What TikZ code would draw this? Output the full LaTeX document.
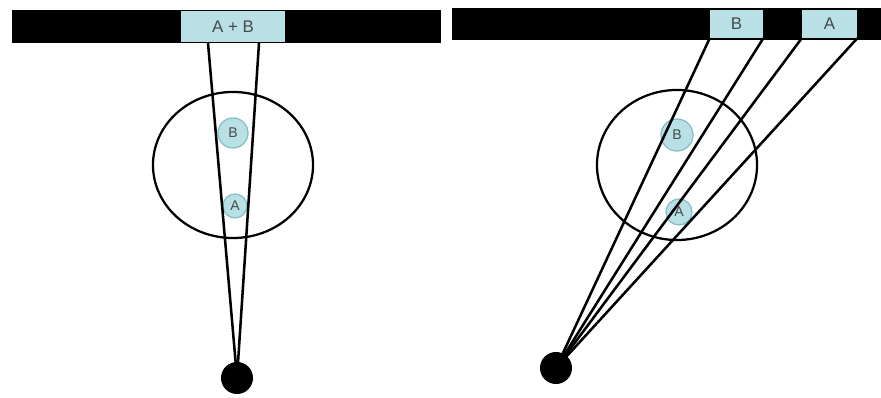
\documentclass[tikz,border=0pt]{standalone}
\usepackage{fontspec}
\setmainfont{Liberation Sans}
\usepackage{xcolor}
\usetikzlibrary{shapes.geometric}

\definecolor{spotblue}{HTML}{B9E1E5}
\definecolor{spotedge}{HTML}{86BFC5}
\definecolor{labelgray}{HTML}{454A4C}

\begin{document}
\begin{tikzpicture}[x=0.025cm, y=-0.025cm,
            film/.style = {rectangle, fill=black, inner sep=0pt},
            image/.style = {rectangle, fill=spotblue, inner sep=0pt, minimum height=0.7cm, text=labelgray, font=\large},
            spot/.style = {circle, fill=spotblue, draw=spotedge, line width=0.9pt, inner sep=0pt, text=labelgray, font=\normalsize},
            body/.style = {ellipse, draw, line width=1.6pt, inner sep=0pt, minimum width=4cm, minimum height=3.65cm},
            source/.style = {circle, fill=black, inner sep=0pt, minimum size=0.8cm},
            ray/.style = {line width=1.8pt},
        ]
            \useasboundingbox (0,0) rectangle (881,398);

            % Left: source straight below, both spots on one image
            \node[film, minimum width=10.725cm, minimum height=0.825cm] (film1) at (226.5,26.5) {};
            \node[image, minimum width=2.6cm, minimum height=0.775cm] (AB) at (233,27) {A + B};
            \node[body] (body1) at (233,165) {};
            \node[spot, minimum size=0.75cm] (B1) at (233,133) {B};
            \node[spot, minimum size=0.6cm] (A1) at (235,206) {A};
            \node[source] (src1) at (237,378) {};
            \coordinate (s1) at (208,43);
            \coordinate (s2) at (259,43);

            \draw[ray] (s1) -- (src1.center);
            \draw[ray] (s2) -- (src1.center);

            % Right: oblique source, the two images fall apart
            \node[film, minimum width=10.725cm, minimum height=0.8cm] (film2) at (666.5,24) {};
            \node[image, minimum width=1.325cm] (B) at (736.5,24) {B};
            \node[image, minimum width=1.375cm] (A) at (829.5,24) {A};
            \node[body, minimum height=3.75cm] (body2) at (677,165) {};
            \node[spot, minimum size=0.8cm] (B2) at (677,135) {B};
            \node[spot, minimum size=0.65cm] (A2) at (679,212) {A};
            \node[source] (src2) at (556,368) {};

            \draw[ray] (B.south west) -- (src2.center);
            \draw[ray] (B.south east) -- (src2.center);
            \draw[ray] (A.south west) -- (src2.center);
            \draw[ray] (A.south east) -- (src2.center);
\end{tikzpicture}
\end{document}
